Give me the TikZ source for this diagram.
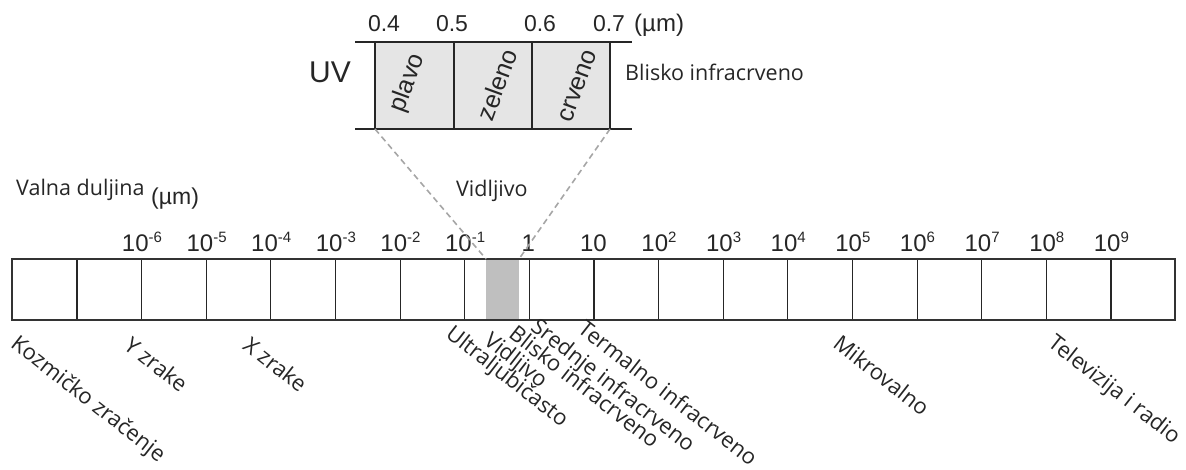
\documentclass[tikz,border=0pt]{standalone}
\usepackage{fontspec}
\setmainfont{Liberation Sans}
\newfontfamily\labfont{Open Sans}
\begin{document}
\begin{tikzpicture}[x=1pt,y=-1pt,
  num/.style={font=\fontsize{24}{26}\selectfont, anchor=base, inner sep=0pt, text=black!85},
  inum/.style={font=\fontsize{23}{25}\selectfont, anchor=base, inner sep=0pt, text=black!85},
  lab/.style={font=\labfont\fontsize{21.5}{23}\selectfont, inner sep=0pt, text=black!85},
  rlab/.style={font=\labfont\fontsize{22}{24}\selectfont, inner sep=0pt, text=black!85, rotate=-38, anchor=north west},
  clab/.style={font=\fontsize{25}{27}\selectfont, inner sep=0pt, rotate=70, text=black!85},
  barline/.style={draw=black!80, line width=1.6pt},
  divline/.style={draw=black!85, line width=1.2pt},
  insetline/.style={draw=black!85, line width=2.6pt},
  zoomline/.style={draw=black!35, line width=1.6pt, dash pattern=on 6pt off 4pt}
]
\useasboundingbox (0,0) rectangle (1186,470);
% ---- main bar ----
\fill[black!25] (486,259) rectangle (519,320);
\coordinate (bandL) at (486,259);
\coordinate (bandR) at (519,259);
\foreach \i in {0,...,16} {
  \draw[divline] ({77+64.625*\i},259) -- ({77+64.625*\i},320);
}
\draw[barline] (12,259) rectangle (1175,320);
% ---- tick labels ----
\newcommand{\sps}[1]{\raisebox{9pt}{\fontsize{15}{15}\selectfont #1}}
\node[num] (t0) at (142,252) {10\sps{-6}};
\node[num] (t1) at (206.6,252) {10\sps{-5}};
\node[num] (t2) at (271.2,252) {10\sps{-4}};
\node[num] (t3) at (335.9,252) {10\sps{-3}};
\node[num] (t4) at (400.5,252) {10\sps{-2}};
\node[num] (t5) at (465.1,252) {10\sps{-1}};
\node[num] (t6) at (528.4,252) {1};
\node[num] (t7) at (593.4,252) {10};
\node[num] (t8) at (659,252) {10\sps{2}};
\node[num] (t9) at (723.6,252) {10\sps{3}};
\node[num] (t10) at (788.2,252) {10\sps{4}};
\node[num] (t11) at (852.9,252) {10\sps{5}};
\node[num] (t12) at (917.5,252) {10\sps{6}};
\node[num] (t13) at (982.1,252) {10\sps{7}};
\node[num] (t14) at (1046.8,252) {10\sps{8}};
\node[num] (t15) at (1111.4,252) {10\sps{9}};
% ---- axis title ----
\node[lab, anchor=base west] (vd) at (16,196) {Valna duljina};
\node[inum, anchor=base west] (vdu) at (151,205) {(\textmu m)};
\node[lab, anchor=base west] (vid) at (456,197) {Vidljivo};
% ---- inset ----
\fill[black!10] (375,42) rectangle (610,129);
\coordinate (insL) at (375,129);
\coordinate (insR) at (610,129);
\foreach \x in {375,454,532,610} { \draw[insetline] (\x,42) -- (\x,129); }
\draw[insetline] (355,42) -- (632,42);
\draw[insetline] (355,129) -- (632,129);
\node[inum] (a4) at (384,32) {0.4};
\node[inum] (a5) at (452,32) {0.5};
\node[inum] (a6) at (540,32) {0.6};
\node[inum] (a7) at (609,32) {0.7};
\node[inum, font=\fontsize{24}{26}\selectfont, anchor=base west] (aum) at (634,32) {(\textmu m)};
\node[font=\fontsize{30}{32}\selectfont, inner sep=0pt, anchor=base east, text=black!85] (uv) at (351,83) {UV};
\node[clab] (plavo) at (408,83) {plavo};
\node[clab] (zeleno) at (497,85) {zeleno};
\node[clab] (crveno) at (578,86) {crveno};
\node[lab, anchor=base west] (bli) at (625,81) {Blisko infracrveno};
% ---- zoom lines ----
\draw[zoomline] (insL) -- (bandL);
\draw[zoomline] (insR) -- (bandR);
% ---- band labels ----
\node[rlab] (b1) at (20,333) {Kozmičko zračenje};
\node[rlab] (b2) at (133,335) {Y zrake};
\node[rlab] (b3) at (252,335) {X zrake};
\node[rlab] (b4) at (455,323) {Ultraljubičasto};
\node[rlab] (b5) at (493,330) {Vidljivo};
\node[rlab] (b6) at (518,323) {Blisko infracrveno};
\node[rlab] (b7) at (540,316) {Srednje infracrveno};
\node[rlab] (b8) at (587,318) {Termalno infracrveno};
\node[rlab] (b9) at (842,333) {Mikrovalno};
\node[rlab] (b10) at (1057,332) {Televizija i radio};
\end{tikzpicture}
\end{document}
